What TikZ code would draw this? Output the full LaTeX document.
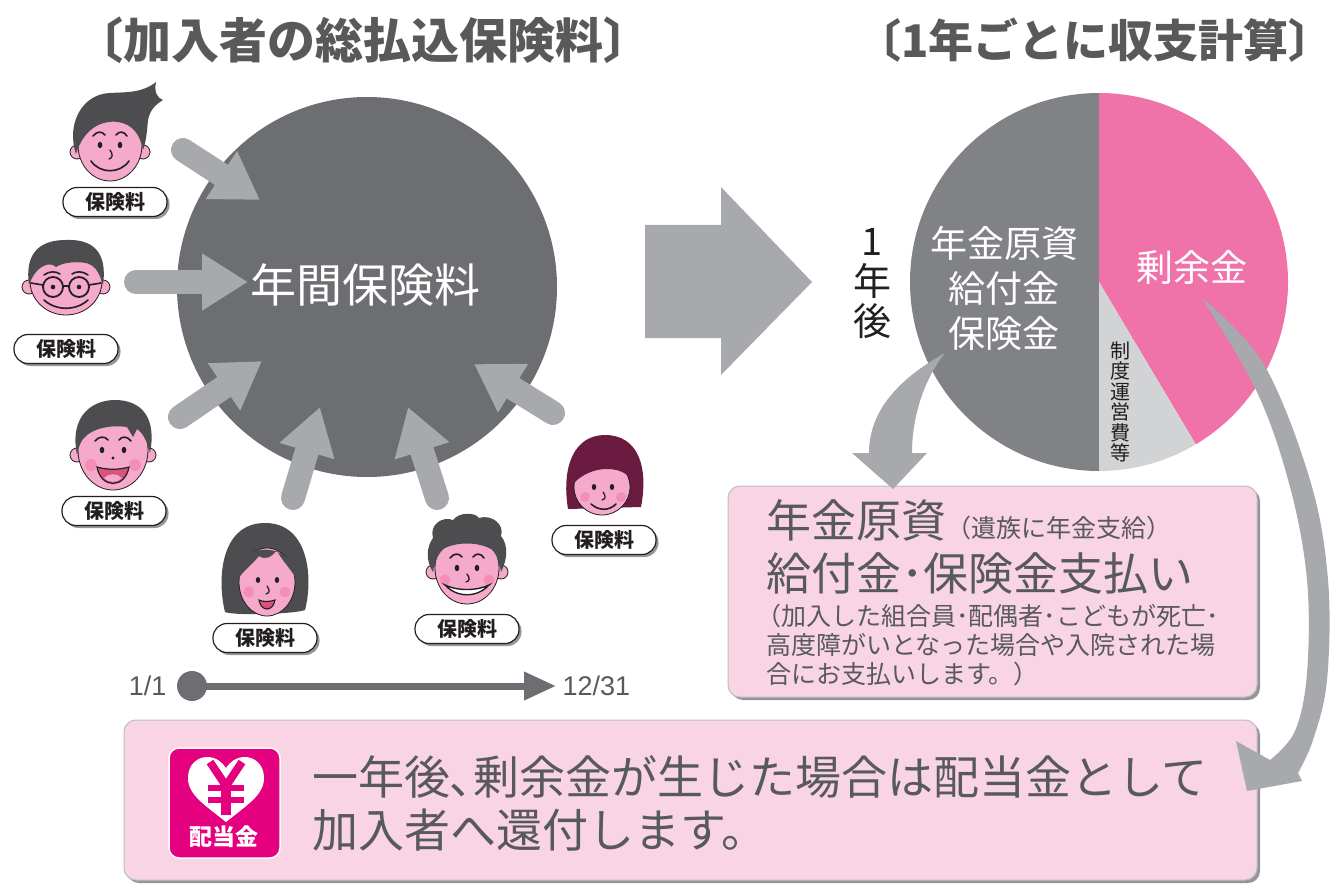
\documentclass[tikz,border=0pt]{standalone}
\usepackage{fontspec}
\setmainfont{Noto Sans CJK JP}
\newfontfamily\latinsans{Liberation Sans}
\usetikzlibrary{arrows.meta,shadows}
\newcommand{\setfs}[1]{\fontsize{#1}{#1}\selectfont}
\definecolor{darkdisc}{HTML}{6D6E71}
\definecolor{lightarrow}{HTML}{A7A9AC}
\definecolor{piegray}{HTML}{808285}
\definecolor{pielight}{HTML}{D1D3D4}
\definecolor{piepink}{HTML}{EF72A8}
\definecolor{boxpink}{HTML}{F9D4E5}
\definecolor{boxedge}{HTML}{BCBEC0}
\definecolor{boxshadow}{HTML}{939598}
\definecolor{inkgray}{HTML}{58595B}
\definecolor{inkdark}{HTML}{231F20}
\definecolor{magentaicon}{HTML}{E4007F}
\definecolor{skin}{HTML}{F5A9CB}
\definecolor{hairgray}{HTML}{4D4D4F}
\definecolor{hairmaroon}{HTML}{6A1B3F}
\definecolor{cheek}{HTML}{F27BA6}
\definecolor{mouthred}{HTML}{D9537E}
\tikzset{
  feed/.style={draw=lightarrow, line width=24pt, line cap=round, -{Triangle[length=46pt,width=54pt]}},
  pill/.style={draw=inkdark, line width=1.2pt, fill=white, rounded corners=14pt,
    minimum width=104pt, minimum height=29pt, inner sep=0pt,
    font=\setfs{20}\bfseries, text=inkdark,
    drop shadow={shadow xshift=2.5pt, shadow yshift=-2.5pt, fill=boxshadow, opacity=1}},
  panel/.style={draw=boxedge, line width=1pt, fill=boxpink, rounded corners=12pt, inner sep=0pt,
    drop shadow={shadow xshift=3pt, shadow yshift=-3pt, fill=boxshadow, opacity=1}},
  skinpart/.style={fill=skin, draw=inkdark, line width=0.8pt},
  feature/.style={draw=inkdark, line width=1.6pt, line cap=round},
  cheekpart/.style={fill=cheek, opacity=0.55},
  panelline/.style={anchor=base west, inner sep=0pt, text=inkgray},
}
\begin{document}
\begin{tikzpicture}[x=1pt, y=-1pt]
\useasboundingbox (0,0) rectangle (1335,885);
\fill[white] (0,0) rectangle (1335,885);

% headings
\node[font=\setfs{48}\bfseries, text=inkgray, inner sep=0pt] (ttlL) at (363,40) {〔加入者の総払込保険料〕};
\node[font=\setfs{45}\bfseries, text=inkgray, inner sep=0pt] (ttlR) at (1095,40) {〔1年ごとに収支計算〕};

% yearly premium disc
\node[circle, fill=darkdisc, minimum size=380pt, inner sep=0pt] (disc) at (367,287) {};
\node[font=\setfs{46}, text=white] (discT) at (365,285) {年間保険料};

% premium flows into the disc
\coordinate (s1) at (183,150); \coordinate (e1) at (260,200);
\coordinate (s2) at (136,282); \coordinate (e2) at (248,282);
\coordinate (s3) at (180,417); \coordinate (e3) at (262,361);
\coordinate (s4) at (293,498); \coordinate (e4) at (320,407);
\coordinate (s5) at (437,498); \coordinate (e5) at (408,407);
\coordinate (s6) at (553,413); \coordinate (e6) at (474,364);
\foreach \i in {1,...,6} { \draw[feed] (s\i) -- (e\i); }

% member 1: swept fringe
\begin{scope}[shift={(110,140)}]
  \path[skinpart] (-33,12) circle[radius=7] (33,12) circle[radius=7];
  \path[skinpart] (0,5) ellipse[x radius=32, y radius=36];
  \fill[hairgray] (-34,14) .. controls (-44,-16) and (-28,-46) .. (0,-47)
     .. controls (18,-48) and (32,-47) .. (46,-58)
     .. controls (44,-48) and (47,-42) .. (53,-40)
     .. controls (45,-35) and (40,-30) .. (38,-20)
     .. controls (37,-8) and (36,2) .. (33,10)
     .. controls (30,-6) and (22,-16) .. (8,-18)
     .. controls (-8,-20) and (-26,-12) .. (-34,14) -- cycle;
  \draw[feature] (-17,-4) .. controls (-13,-9) and (-8,-9) .. (-5,-5);
  \draw[feature] (6,-5) .. controls (9,-9) and (14,-9) .. (17,-4);
  \fill[inkdark] (-10,5) ellipse[x radius=2.3, y radius=3.2] (10,5) ellipse[x radius=2.3, y radius=3.2];
  \draw[feature, line width=1.3pt] (0,10) .. controls (3,14) and (3,18) .. (-1,19);
  \draw[feature] (-19,21) .. controls (-10,34) and (10,34) .. (19,21);
\end{scope}

% member 2: glasses
\begin{scope}[shift={(66,277)}]
  \path[skinpart] (-37,10) circle[radius=7] (37,10) circle[radius=7];
  \path[skinpart] (0,4) ellipse[x radius=36, y radius=34];
  \fill[hairgray] (-37,8) .. controls (-42,-28) and (-22,-37) .. (0,-37)
     .. controls (24,-38) and (42,-28) .. (37,8)
     .. controls (33,-6) and (28,-12) .. (20,-14)
     .. controls (8,-16) and (-4,-14) .. (-10,-10)
     .. controls (-16,-16) and (-30,-12) .. (-37,8) -- cycle;
  \draw[feature] (-22,-2) .. controls (-17,-6) and (-10,-6) .. (-6,-3);
  \draw[feature] (6,-3) .. controls (10,-6) and (17,-6) .. (22,-2);
  \draw[feature, line width=1.8pt] (-13,10) circle[radius=10] (13,10) circle[radius=10];
  \draw[feature] (-3,9) -- (3,9) (-23,8) -- (-35,6) (23,8) -- (35,6);
  \fill[inkdark] (-13,10) circle[radius=2.3] (13,10) circle[radius=2.3];
  \draw[feature] (-22,23) .. controls (-10,34) and (10,34) .. (22,23);
\end{scope}

% member 3: open smile
\begin{scope}[shift={(113,445)}]
  \path[skinpart] (-36,10) circle[radius=7] (36,10) circle[radius=7];
  \path[skinpart] (0,5) ellipse[x radius=35, y radius=40];
  \fill[hairgray] (-36,10) .. controls (-44,-30) and (-20,-45) .. (2,-45)
     .. controls (28,-45) and (44,-28) .. (37,8)
     .. controls (34,-4) and (30,-12) .. (24,-16)
     -- (20,-8) -- (14,-18)
     .. controls (0,-20) and (-20,-18) .. (-30,-6)
     .. controls (-33,-2) and (-35,4) .. (-36,10) -- cycle;
  \draw[feature] (-18,-4) .. controls (-14,-9) and (-8,-9) .. (-5,-5);
  \draw[feature] (6,-5) .. controls (9,-9) and (14,-9) .. (18,-4);
  \fill[inkdark] (-11,5) ellipse[x radius=2.3, y radius=3.2] (11,5) ellipse[x radius=2.3, y radius=3.2];
  \fill[inkdark] (0,13) circle[radius=1.6];
  \fill[cheekpart] (-22,20) circle[radius=6] (22,20) circle[radius=6];
  \filldraw[fill=mouthred, draw=inkdark, line width=1.2pt] (-16,22) .. controls (-12,44) and (12,44) .. (16,22) .. controls (6,25) and (-6,25) .. (-16,22) -- cycle;
  \fill[skin] (-9,33) .. controls (-4,28) and (4,28) .. (9,33) .. controls (4,38) and (-4,38) .. (-9,33) -- cycle;
\end{scope}

% member 4: long hair
\begin{scope}[shift={(265,570)}]
  \fill[hairgray] (-40,42) .. controls (-48,10) and (-45,-47) .. (0,-47)
     .. controls (45,-47) and (48,10) .. (40,40)
     .. controls (30,44) and (-30,46) .. (-40,42) -- cycle;
  \path[skinpart] (2,12) ellipse[x radius=28, y radius=34];
  \fill[hairgray] (-30,14) .. controls (-34,-30) and (30,-32) .. (32,10)
     .. controls (24,-4) and (16,-10) .. (12,-20)
     .. controls (6,-12) and (0,-10) .. (-6,-14)
     .. controls (-14,-4) and (-24,2) .. (-30,14) -- cycle;
  \fill[inkdark] (-7,10) ellipse[x radius=2.2, y radius=3] (12,10) ellipse[x radius=2.2, y radius=3];
  \draw[feature, line width=1.2pt] (2,16) .. controls (5,20) and (5,23) .. (1,24);
  \fill[cheekpart] (-16,22) circle[radius=5.5] (20,22) circle[radius=5.5];
  \filldraw[fill=mouthred, draw=inkdark, line width=1.1pt] (-6,30) .. controls (-4,42) and (8,42) .. (10,30) .. controls (4,32) and (-2,32) .. (-6,30) -- cycle;
\end{scope}

% member 5: curly hair
\begin{scope}[shift={(467,560)}]
  \path[skinpart] (-34,12) circle[radius=7] (34,12) circle[radius=7];
  \path[skinpart] (0,8) ellipse[x radius=32, y radius=36];
  \fill[hairgray] (-34,12) .. controls (-42,0) and (-40,-14) .. (-34,-22)
    .. controls (-38,-36) and (-24,-44) .. (-14,-40)
    .. controls (-8,-48) and (8,-48) .. (12,-42)
    .. controls (24,-46) and (38,-36) .. (34,-24)
    .. controls (42,-14) and (40,0) .. (34,12)
    .. controls (32,0) and (28,-10) .. (22,-12)
    .. controls (10,-18) and (-10,-18) .. (-22,-12)
    .. controls (-28,-8) and (-32,0) .. (-34,12) -- cycle;
  \draw[feature] (-17,-2) .. controls (-13,-7) and (-8,-7) .. (-5,-3);
  \draw[feature] (6,-3) .. controls (9,-7) and (14,-7) .. (17,-2);
  \fill[inkdark] (-10,8) ellipse[x radius=2.3, y radius=3.2] (10,8) ellipse[x radius=2.3, y radius=3.2];
  \draw[feature, line width=1.3pt] (0,14) .. controls (3,18) and (3,21) .. (-1,22);
  \fill[cheekpart] (-22,20) circle[radius=5.5] (22,20) circle[radius=5.5];
  \filldraw[fill=white, draw=inkdark, line width=1.4pt] (-22,25) .. controls (-10,38) and (10,38) .. (22,25) .. controls (10,31) and (-10,31) .. (-22,25) -- cycle;
\end{scope}

% member 6: bob hair
\begin{scope}[shift={(605,475)}]
  \fill[hairmaroon] (-37,34) .. controls (-44,-10) and (-30,-40) .. (0,-40)
     .. controls (32,-40) and (44,-10) .. (36,32) -- cycle;
  \path[skinpart] (-3,12) ellipse[x radius=28, y radius=28];
  \fill[hairmaroon] (-31,8) .. controls (-30,-28) and (28,-28) .. (26,4)
     .. controls (16,-10) and (-14,-10) .. (-31,8) -- cycle;
  \fill[inkdark] (-11,12) ellipse[x radius=2.2, y radius=3] (7,12) ellipse[x radius=2.2, y radius=3];
  \draw[feature, line width=1.2pt] (-2,17) .. controls (1,21) and (1,24) .. (-3,25);
  \fill[cheekpart] (-20,22) circle[radius=5] (16,22) circle[radius=5];
  \draw[feature] (-14,29) .. controls (-6,36) and (4,36) .. (11,29);
\end{scope}

% premium tags
\node[pill] (tag1) at (115,202) {保険料};
\node[pill] (tag2) at (66,349) {保険料};
\node[pill] (tag3) at (114,511) {保険料};
\node[pill] (tag4) at (265,638) {保険料};
\node[pill] (tag5) at (467,629) {保険料};
\node[pill] (tag6) at (604,540) {保険料};

% the year line
\node[circle, fill=darkdisc, minimum size=30pt, inner sep=0pt] (jan) at (192,686) {};
\coordinate (dec) at (556,686);
\draw[darkdisc, line width=7pt, -{Triangle[length=32pt,width=27pt]}] (jan.center) -- (dec);
\node[anchor=east, font=\latinsans\setfs{27}, text=inkgray] (janT) at (170,686) {1/1};
\node[anchor=west, font=\latinsans\setfs{27}, text=inkgray] (decT) at (559,686) {12/31};

% block arrow between the two halves
\fill[lightarrow] (645,225) -- (721,225) -- (721,187) -- (812,282) -- (721,375) -- (721,338) -- (645,338) -- cycle;

% annual balance pie
\coordinate (pc) at (1099,282);
\fill[piegray] (pc) -- ++(0,-189) arc[start angle=-90, end angle=-270, radius=189] -- cycle;
\fill[piepink] (pc) -- ++(0,-189) arc[start angle=-90, end angle=59.2, radius=189] -- cycle;
\fill[pielight] (pc) -- ++(59.2:189) arc[start angle=59.2, end angle=90, radius=189] -- cycle;
\node[font=\fontsize{37}{45}\selectfont, text=white, align=center] (fundT) at (1004,288) {年金原資\\給付金\\保険金};
\node[font=\setfs{37}, text=white] (surpT) at (1192,267) {剰余金};
\node[font=\fontsize{20}{20.5}\selectfont, text=inkdark, align=center] (costT) at (1120,402) {制\\度\\運\\営\\費\\等};
\node[font=\fontsize{38}{40}\selectfont, text=inkdark, align=center] (yearT) at (872,284) {1\\年\\後};

% payment panel
\node[panel, minimum width=529pt, minimum height=211pt] (pay) at (992.5,591.5) {};
\node[panelline] (payA) at (766,537) {{\setfs{45}年金原資}{\setfs{25}（遺族に年金支給）}};
\node[panelline, font=\setfs{45}] (payB) at (766,590) {給付金･保険金支払い};
\node[panelline, font=\setfs{25}] (payC) at (756,625) {（加入した組合員･配偶者･こどもが死亡･};
\node[panelline, font=\setfs{25}] (payD) at (766,654) {高度障がいとなった場合や入院された場};
\node[panelline, font=\setfs{25}] (payE) at (766,683) {合にお支払いします。）};

% curved arrow from the pie down to the payment panel
\fill[lightarrow] (945,353) .. controls (900,378) and (869,410) .. (869,453) -- (852,453) -- (893,489) -- (927,453) -- (912,453) .. controls (912,415) and (925,378) .. (945,353) -- cycle;

% dividend panel
\node[panel, minimum width=1133pt, minimum height=160pt] (divi) at (690.5,800) {};
\node[fill=magentaicon, draw=white, line width=1.5pt, rounded corners=10pt, minimum width=111pt, minimum height=110pt, inner sep=0pt] (icon) at (224.5,803) {};
\fill[white] (226,822) .. controls (205,805) and (188,795) .. (188,778)
   .. controls (188,764) and (198,757) .. (207,757)
   .. controls (216,757) and (222,762) .. (226,768)
   .. controls (230,762) and (236,757) .. (245,757)
   .. controls (254,757) and (264,764) .. (264,778)
   .. controls (264,795) and (247,805) .. (226,822) -- cycle;
\draw[magentaicon, line width=8pt] (210,762) -- (226,786) -- (242,762);
\draw[magentaicon, line width=6pt] (208,788) -- (244,788) (208,800) -- (244,800);
\draw[magentaicon, line width=10pt] (226,784) -- (226,815);
\node[font=\setfs{23}\bfseries, text=white] (iconT) at (224,837) {配当金};
\node[panelline, font=\setfs{46}] (diviA) at (312,794) {一年後､剰余金が生じた場合は配当金として};
\node[panelline, font=\setfs{46}] (diviB) at (312,847) {加入者へ還付します。};

% surplus returned to members
\fill[lightarrow] plot[smooth, tension=0.6] coordinates {(1202,298) (1263,363) (1310,480) (1328,580) (1327,680) (1313,740) (1298,773)}
   -- (1302,781) -- (1247,791) -- (1236,741)
   -- plot[smooth, tension=0.6] coordinates {(1270,760) (1295,731) (1307,673) (1307,580) (1290,487) (1257,392) (1202,298)} -- cycle;
\end{tikzpicture}
\end{document}
